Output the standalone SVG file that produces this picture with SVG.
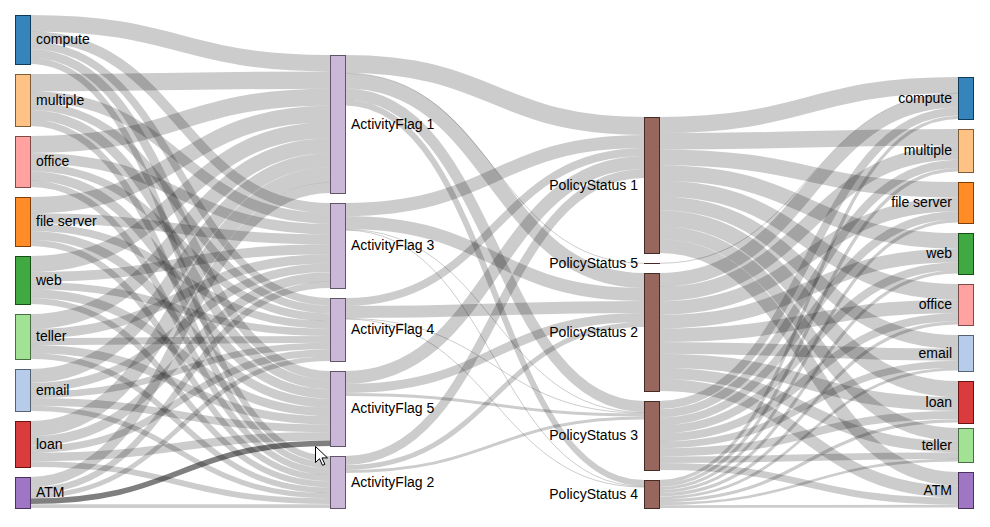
<svg xmlns="http://www.w3.org/2000/svg" width="990" height="527" viewBox="0 0 990 527">
<style>
.link{fill:none;stroke:#000;stroke-opacity:.2}
.link.hl{stroke-opacity:.5}
.node rect{fill-opacity:.9;shape-rendering:crispEdges;stroke-width:1}
.node text{font-family:"Liberation Sans",Arial,sans-serif;font-size:14px;fill:#000}
.r{text-anchor:end}
</style>
<rect width="990" height="527" fill="#fff"/>
<g id="links">
<path class="link" stroke-width="16.4" d="M30 23.2C180 23.2 180 63.2 330 63.2"/>
<path class="link" stroke-width="10.1" d="M30 36.4C180 36.4 180 208 330 208"/>
<path class="link" stroke-width="7.5" d="M30 45.2C180 45.2 180 301.7 330 301.7"/>
<path class="link" stroke-width="8.9" d="M30 53.4C180 53.4 180 375.5 330 375.5"/>
<path class="link" stroke-width="6.2" d="M30 60.9C180 60.9 180 459.1 330 459.1"/>
<path class="link" stroke-width="17.4" d="M30 82.7C180 82.7 180 80.1 330 80.1"/>
<path class="link" stroke-width="10.7" d="M30 96.7C180 96.7 180 218.4 330 218.4"/>
<path class="link" stroke-width="7.9" d="M30 106C180 106 180 309.4 330 309.4"/>
<path class="link" stroke-width="9.4" d="M30 114.7C180 114.7 180 384.6 330 384.6"/>
<path class="link" stroke-width="6.5" d="M30 122.7C180 122.7 180 465.5 330 465.5"/>
<path class="link" stroke-width="17" d="M30 144.5C180 144.5 180 97.3 330 97.3"/>
<path class="link" stroke-width="10.5" d="M30 158.3C180 158.3 180 229 330 229"/>
<path class="link" stroke-width="7.8" d="M30 167.4C180 167.4 180 317.3 330 317.3"/>
<path class="link" stroke-width="9.3" d="M30 176C180 176 180 394 330 394"/>
<path class="link" stroke-width="6.4" d="M30 183.8C180 183.8 180 471.9 330 471.9"/>
<path class="link" stroke-width="16.4" d="M30 205.2C180 205.2 180 114 330 114"/>
<path class="link" stroke-width="10.1" d="M30 218.4C180 218.4 180 239.3 330 239.3"/>
<path class="link" stroke-width="7.5" d="M30 227.2C180 227.2 180 324.9 330 324.9"/>
<path class="link" stroke-width="8.9" d="M30 235.4C180 235.4 180 403.1 330 403.1"/>
<path class="link" stroke-width="6.2" d="M30 242.9C180 242.9 180 478.2 330 478.2"/>
<path class="link" stroke-width="16" d="M30 264C180 264 180 130.2 330 130.2"/>
<path class="link" stroke-width="9.9" d="M30 277C180 277 180 249.3 330 249.3"/>
<path class="link" stroke-width="7.3" d="M30 285.6C180 285.6 180 332.3 330 332.3"/>
<path class="link" stroke-width="8.7" d="M30 293.6C180 293.6 180 411.9 330 411.9"/>
<path class="link" stroke-width="6" d="M30 301C180 301 180 484.3 330 484.3"/>
<path class="link" stroke-width="15" d="M30 321.5C180 321.5 180 145.7 330 145.7"/>
<path class="link" stroke-width="9.3" d="M30 333.7C180 333.7 180 258.9 330 258.9"/>
<path class="link" stroke-width="6.9" d="M30 341.7C180 341.7 180 339.4 330 339.4"/>
<path class="link" stroke-width="8.2" d="M30 349.2C180 349.2 180 420.3 330 420.3"/>
<path class="link" stroke-width="5.7" d="M30 356.2C180 356.2 180 490.2 330 490.2"/>
<path class="link" stroke-width="14" d="M30 376C180 376 180 160.3 330 160.3"/>
<path class="link" stroke-width="8.6" d="M30 387.4C180 387.4 180 267.8 330 267.8"/>
<path class="link" stroke-width="6.4" d="M30 394.9C180 394.9 180 346 330 346"/>
<path class="link" stroke-width="7.6" d="M30 401.9C180 401.9 180 428.2 330 428.2"/>
<path class="link" stroke-width="5.3" d="M30 408.4C180 408.4 180 495.7 330 495.7"/>
<path class="link" stroke-width="15.4" d="M30 428.7C180 428.7 180 175 330 175"/>
<path class="link" stroke-width="9.5" d="M30 441.1C180 441.1 180 276.9 330 276.9"/>
<path class="link" stroke-width="7" d="M30 449.4C180 449.4 180 352.8 330 352.8"/>
<path class="link" stroke-width="8.4" d="M30 457C180 457 180 436.2 330 436.2"/>
<path class="link" stroke-width="5.8" d="M30 464.1C180 464.1 180 501.2 330 501.2"/>
<path class="link" stroke-width="10.4" d="M30 482.2C180 482.2 180 187.8 330 187.8"/>
<path class="link" stroke-width="6.4" d="M30 490.6C180 490.6 180 284.8 330 284.8"/>
<path class="link" stroke-width="4.7" d="M30 496.1C180 496.1 180 358.6 330 358.6"/>
<path class="link hl" stroke-width="5.6" d="M30 501.3C180 501.3 180 443.2 330 443.2"/>
<path class="link" stroke-width="3.9" d="M30 506.1C180 506.1 180 506.1 330 506.1"/>
<path class="link" stroke-width="18" d="M345 64C494.5 64 494.5 126 644 126"/>
<path class="link" stroke-width="1" d="M345 73.3C494.5 73.3 494.5 263.3 644 263.3"/>
<path class="link" stroke-width="15" d="M345 81C494.5 81 494.5 280.5 644 280.5"/>
<path class="link" stroke-width="11" d="M345 94C494.5 94 494.5 406.5 644 406.5"/>
<path class="link" stroke-width="6" d="M345 102.5C494.5 102.5 494.5 483 644 483"/>
<path class="link" stroke-width="13" d="M345 209.5C494.5 209.5 494.5 141.5 644 141.5"/>
<path class="link" stroke-width="13" d="M345 222.5C494.5 222.5 494.5 294.5 644 294.5"/>
<path class="link" stroke-width="1" d="M345 229.4C494.5 229.4 494.5 412.4 644 412.4"/>
<path class="link" stroke-width="1" d="M345 230.1C494.5 230.1 494.5 486.4 644 486.4"/>
<path class="link" stroke-width="8" d="M345 302C494.5 302 494.5 152 644 152"/>
<path class="link" stroke-width="12" d="M345 312C494.5 312 494.5 307 644 307"/>
<path class="link" stroke-width="1" d="M345 318.4C494.5 318.4 494.5 413.1 644 413.1"/>
<path class="link" stroke-width="1" d="M345 319.1C494.5 319.1 494.5 487.1 644 487.1"/>
<path class="link" stroke-width="13" d="M345 377.5C494.5 377.5 494.5 162.5 644 162.5"/>
<path class="link" stroke-width="9" d="M345 388.5C494.5 388.5 494.5 317.5 644 317.5"/>
<path class="link" stroke-width="3" d="M345 394.5C494.5 394.5 494.5 414.9 644 414.9"/>
<path class="link" stroke-width="9" d="M345 460.5C494.5 460.5 494.5 173.5 644 173.5"/>
<path class="link" stroke-width="5" d="M345 467.5C494.5 467.5 494.5 324.5 644 324.5"/>
<path class="link" stroke-width="3" d="M345 471.5C494.5 471.5 494.5 417.9 644 417.9"/>
<path class="link" stroke-width="16" d="M659 125C808.5 125 808.5 85 958 85"/>
<path class="link" stroke-width="16.4" d="M659 141.3C808.5 141.3 808.5 137.2 958 137.2"/>
<path class="link" stroke-width="15.7" d="M659 157.3C808.5 157.3 808.5 189.8 958 189.8"/>
<path class="link" stroke-width="15.7" d="M659 173C808.5 173 808.5 240.8 958 240.8"/>
<path class="link" stroke-width="15.7" d="M659 188.6C808.5 188.6 808.5 291.8 958 291.8"/>
<path class="link" stroke-width="13.8" d="M659 203.3C808.5 203.3 808.5 341.9 958 341.9"/>
<path class="link" stroke-width="16" d="M659 218.2C808.5 218.2 808.5 389 958 389"/>
<path class="link" stroke-width="13" d="M659 232.7C808.5 232.7 808.5 434.5 958 434.5"/>
<path class="link" stroke-width="13.8" d="M659 246.1C808.5 246.1 808.5 478.9 958 478.9"/>
<path class="link" stroke-width="1" d="M659 263.3C808.5 263.3 808.5 93.3 958 93.3"/>
<path class="link" stroke-width="13.9" d="M659 280C808.5 280 808.5 100.5 958 100.5"/>
<path class="link" stroke-width="14.3" d="M659 294C808.5 294 808.5 152.6 958 152.6"/>
<path class="link" stroke-width="13.6" d="M659 308C808.5 308 808.5 204.5 958 204.5"/>
<path class="link" stroke-width="13.6" d="M659 321.6C808.5 321.6 808.5 255.5 958 255.5"/>
<path class="link" stroke-width="13.6" d="M659 335.2C808.5 335.2 808.5 306.5 958 306.5"/>
<path class="link" stroke-width="11.9" d="M659 347.9C808.5 347.9 808.5 354.7 958 354.7"/>
<path class="link" stroke-width="13.9" d="M659 360.8C808.5 360.8 808.5 404 958 404"/>
<path class="link" stroke-width="11.3" d="M659 373.4C808.5 373.4 808.5 446.6 958 446.6"/>
<path class="link" stroke-width="11.9" d="M659 385C808.5 385 808.5 491.7 958 491.7"/>
<path class="link" stroke-width="8.1" d="M659 405.1C808.5 405.1 808.5 111.5 958 111.5"/>
<path class="link" stroke-width="8.3" d="M659 413.3C808.5 413.3 808.5 163.9 958 163.9"/>
<path class="link" stroke-width="8" d="M659 421.5C808.5 421.5 808.5 215.2 958 215.2"/>
<path class="link" stroke-width="8" d="M659 429.4C808.5 429.4 808.5 266.2 958 266.2"/>
<path class="link" stroke-width="8" d="M659 437.4C808.5 437.4 808.5 317.2 958 317.2"/>
<path class="link" stroke-width="7" d="M659 444.8C808.5 444.8 808.5 364.2 958 364.2"/>
<path class="link" stroke-width="8.1" d="M659 452.4C808.5 452.4 808.5 415 958 415"/>
<path class="link" stroke-width="6.6" d="M659 459.7C808.5 459.7 808.5 455.6 958 455.6"/>
<path class="link" stroke-width="7" d="M659 466.5C808.5 466.5 808.5 501.2 958 501.2"/>
<path class="link" stroke-width="3.3" d="M659 481.7C808.5 481.7 808.5 117.3 958 117.3"/>
<path class="link" stroke-width="3.4" d="M659 485C808.5 485 808.5 169.7 958 169.7"/>
<path class="link" stroke-width="3.2" d="M659 488.3C808.5 488.3 808.5 220.8 958 220.8"/>
<path class="link" stroke-width="3.2" d="M659 491.5C808.5 491.5 808.5 271.8 958 271.8"/>
<path class="link" stroke-width="3.2" d="M659 494.7C808.5 494.7 808.5 322.8 958 322.8"/>
<path class="link" stroke-width="2.8" d="M659 497.8C808.5 497.8 808.5 369.1 958 369.1"/>
<path class="link" stroke-width="3.3" d="M659 500.8C808.5 500.8 808.5 420.8 958 420.8"/>
<path class="link" stroke-width="2.7" d="M659 503.8C808.5 503.8 808.5 460.2 958 460.2"/>
<path class="link" stroke-width="2.8" d="M659 506.6C808.5 506.6 808.5 506.1 958 506.1"/>
</g>
<g id="n-compute-src" class="node"><rect x="15" y="15" width="15" height="49" fill="#1f77b4" stroke="#0f3a58"/><text x="36" y="39.5" dy=".35em">compute</text></g>
<g id="n-multiple-src" class="node"><rect x="15" y="74" width="15" height="52" fill="#ffbb78" stroke="#7d5c3b"/><text x="36" y="100" dy=".35em">multiple</text></g>
<g id="n-office-src" class="node"><rect x="15" y="136" width="15" height="51" fill="#ff9896" stroke="#7d4a4a"/><text x="36" y="161.5" dy=".35em">office</text></g>
<g id="n-fileserver-src" class="node"><rect x="15" y="197" width="15" height="49" fill="#ff7f0e" stroke="#7d3e07"/><text x="36" y="221.5" dy=".35em">file server</text></g>
<g id="n-web-src" class="node"><rect x="15" y="256" width="15" height="48" fill="#2ca02c" stroke="#164e16"/><text x="36" y="280" dy=".35em">web</text></g>
<g id="n-teller-src" class="node"><rect x="15" y="314" width="15" height="45" fill="#98df8a" stroke="#4a6d44"/><text x="36" y="336.5" dy=".35em">teller</text></g>
<g id="n-email-src" class="node"><rect x="15" y="369" width="15" height="42" fill="#aec7e8" stroke="#556272"/><text x="36" y="390" dy=".35em">email</text></g>
<g id="n-loan-src" class="node"><rect x="15" y="421" width="15" height="46" fill="#d62728" stroke="#691314"/><text x="36" y="444" dy=".35em">loan</text></g>
<g id="n-atm-src" class="node"><rect x="15" y="477" width="15" height="31" fill="#9467bd" stroke="#49325d"/><text x="36" y="492.5" dy=".35em">ATM</text></g>
<g id="n-af1" class="node"><rect x="330" y="55" width="15" height="138" fill="#c5b0d5" stroke="#615668"/><text x="351" y="124" dy=".35em">ActivityFlag 1</text></g>
<g id="n-af3" class="node"><rect x="330" y="203" width="15" height="85" fill="#c5b0d5" stroke="#615668"/><text x="351" y="245.5" dy=".35em">ActivityFlag 3</text></g>
<g id="n-af4" class="node"><rect x="330" y="298" width="15" height="63" fill="#c5b0d5" stroke="#615668"/><text x="351" y="329.5" dy=".35em">ActivityFlag 4</text></g>
<g id="n-af5" class="node"><rect x="330" y="371" width="15" height="75" fill="#c5b0d5" stroke="#615668"/><text x="351" y="408.5" dy=".35em">ActivityFlag 5</text></g>
<g id="n-af2" class="node"><rect x="330" y="456" width="15" height="52" fill="#c5b0d5" stroke="#615668"/><text x="351" y="482" dy=".35em">ActivityFlag 2</text></g>
<g id="n-ps1" class="node"><rect x="644" y="117" width="15" height="136" fill="#8c564b" stroke="#452a25"/><text class="r" x="638" y="185" dy=".35em">PolicyStatus 1</text></g>
<g id="n-ps5" class="node"><rect x="644" y="263" width="15" height="0.5" fill="#8c564b" stroke="#452a25"/><text class="r" x="638" y="263" dy=".35em">PolicyStatus 5</text></g>
<g id="n-ps2" class="node"><rect x="644" y="273" width="15" height="118" fill="#8c564b" stroke="#452a25"/><text class="r" x="638" y="332" dy=".35em">PolicyStatus 2</text></g>
<g id="n-ps3" class="node"><rect x="644" y="401" width="15" height="69" fill="#8c564b" stroke="#452a25"/><text class="r" x="638" y="435.5" dy=".35em">PolicyStatus 3</text></g>
<g id="n-ps4" class="node"><rect x="644" y="480" width="15" height="28" fill="#8c564b" stroke="#452a25"/><text class="r" x="638" y="494" dy=".35em">PolicyStatus 4</text></g>
<g id="n-compute-dst" class="node"><rect x="958" y="77" width="15" height="42" fill="#1f77b4" stroke="#0f3a58"/><text class="r" x="952" y="98" dy=".35em">compute</text></g>
<g id="n-multiple-dst" class="node"><rect x="958" y="129" width="15" height="43" fill="#ffbb78" stroke="#7d5c3b"/><text class="r" x="952" y="150.5" dy=".35em">multiple</text></g>
<g id="n-fileserver-dst" class="node"><rect x="958" y="182" width="15" height="41" fill="#ff7f0e" stroke="#7d3e07"/><text class="r" x="952" y="202.5" dy=".35em">file server</text></g>
<g id="n-web-dst" class="node"><rect x="958" y="233" width="15" height="41" fill="#2ca02c" stroke="#164e16"/><text class="r" x="952" y="253.5" dy=".35em">web</text></g>
<g id="n-office-dst" class="node"><rect x="958" y="284" width="15" height="41" fill="#ff9896" stroke="#7d4a4a"/><text class="r" x="952" y="304.5" dy=".35em">office</text></g>
<g id="n-email-dst" class="node"><rect x="958" y="335" width="15" height="36" fill="#aec7e8" stroke="#556272"/><text class="r" x="952" y="353" dy=".35em">email</text></g>
<g id="n-loan-dst" class="node"><rect x="958" y="381" width="15" height="42" fill="#d62728" stroke="#691314"/><text class="r" x="952" y="402" dy=".35em">loan</text></g>
<g id="n-teller-dst" class="node"><rect x="958" y="428" width="15" height="34" fill="#98df8a" stroke="#4a6d44"/><text class="r" x="952" y="445" dy=".35em">teller</text></g>
<g id="n-atm-dst" class="node"><rect x="958" y="472" width="15" height="36" fill="#9467bd" stroke="#49325d"/><text class="r" x="952" y="490" dy=".35em">ATM</text></g>
<path d="M315.5 446.5v16l4-3.8 3 6.6 2.4-1-3-6.4h5.6z" fill="#fff" stroke="#000" stroke-width="1"/>
</svg>
